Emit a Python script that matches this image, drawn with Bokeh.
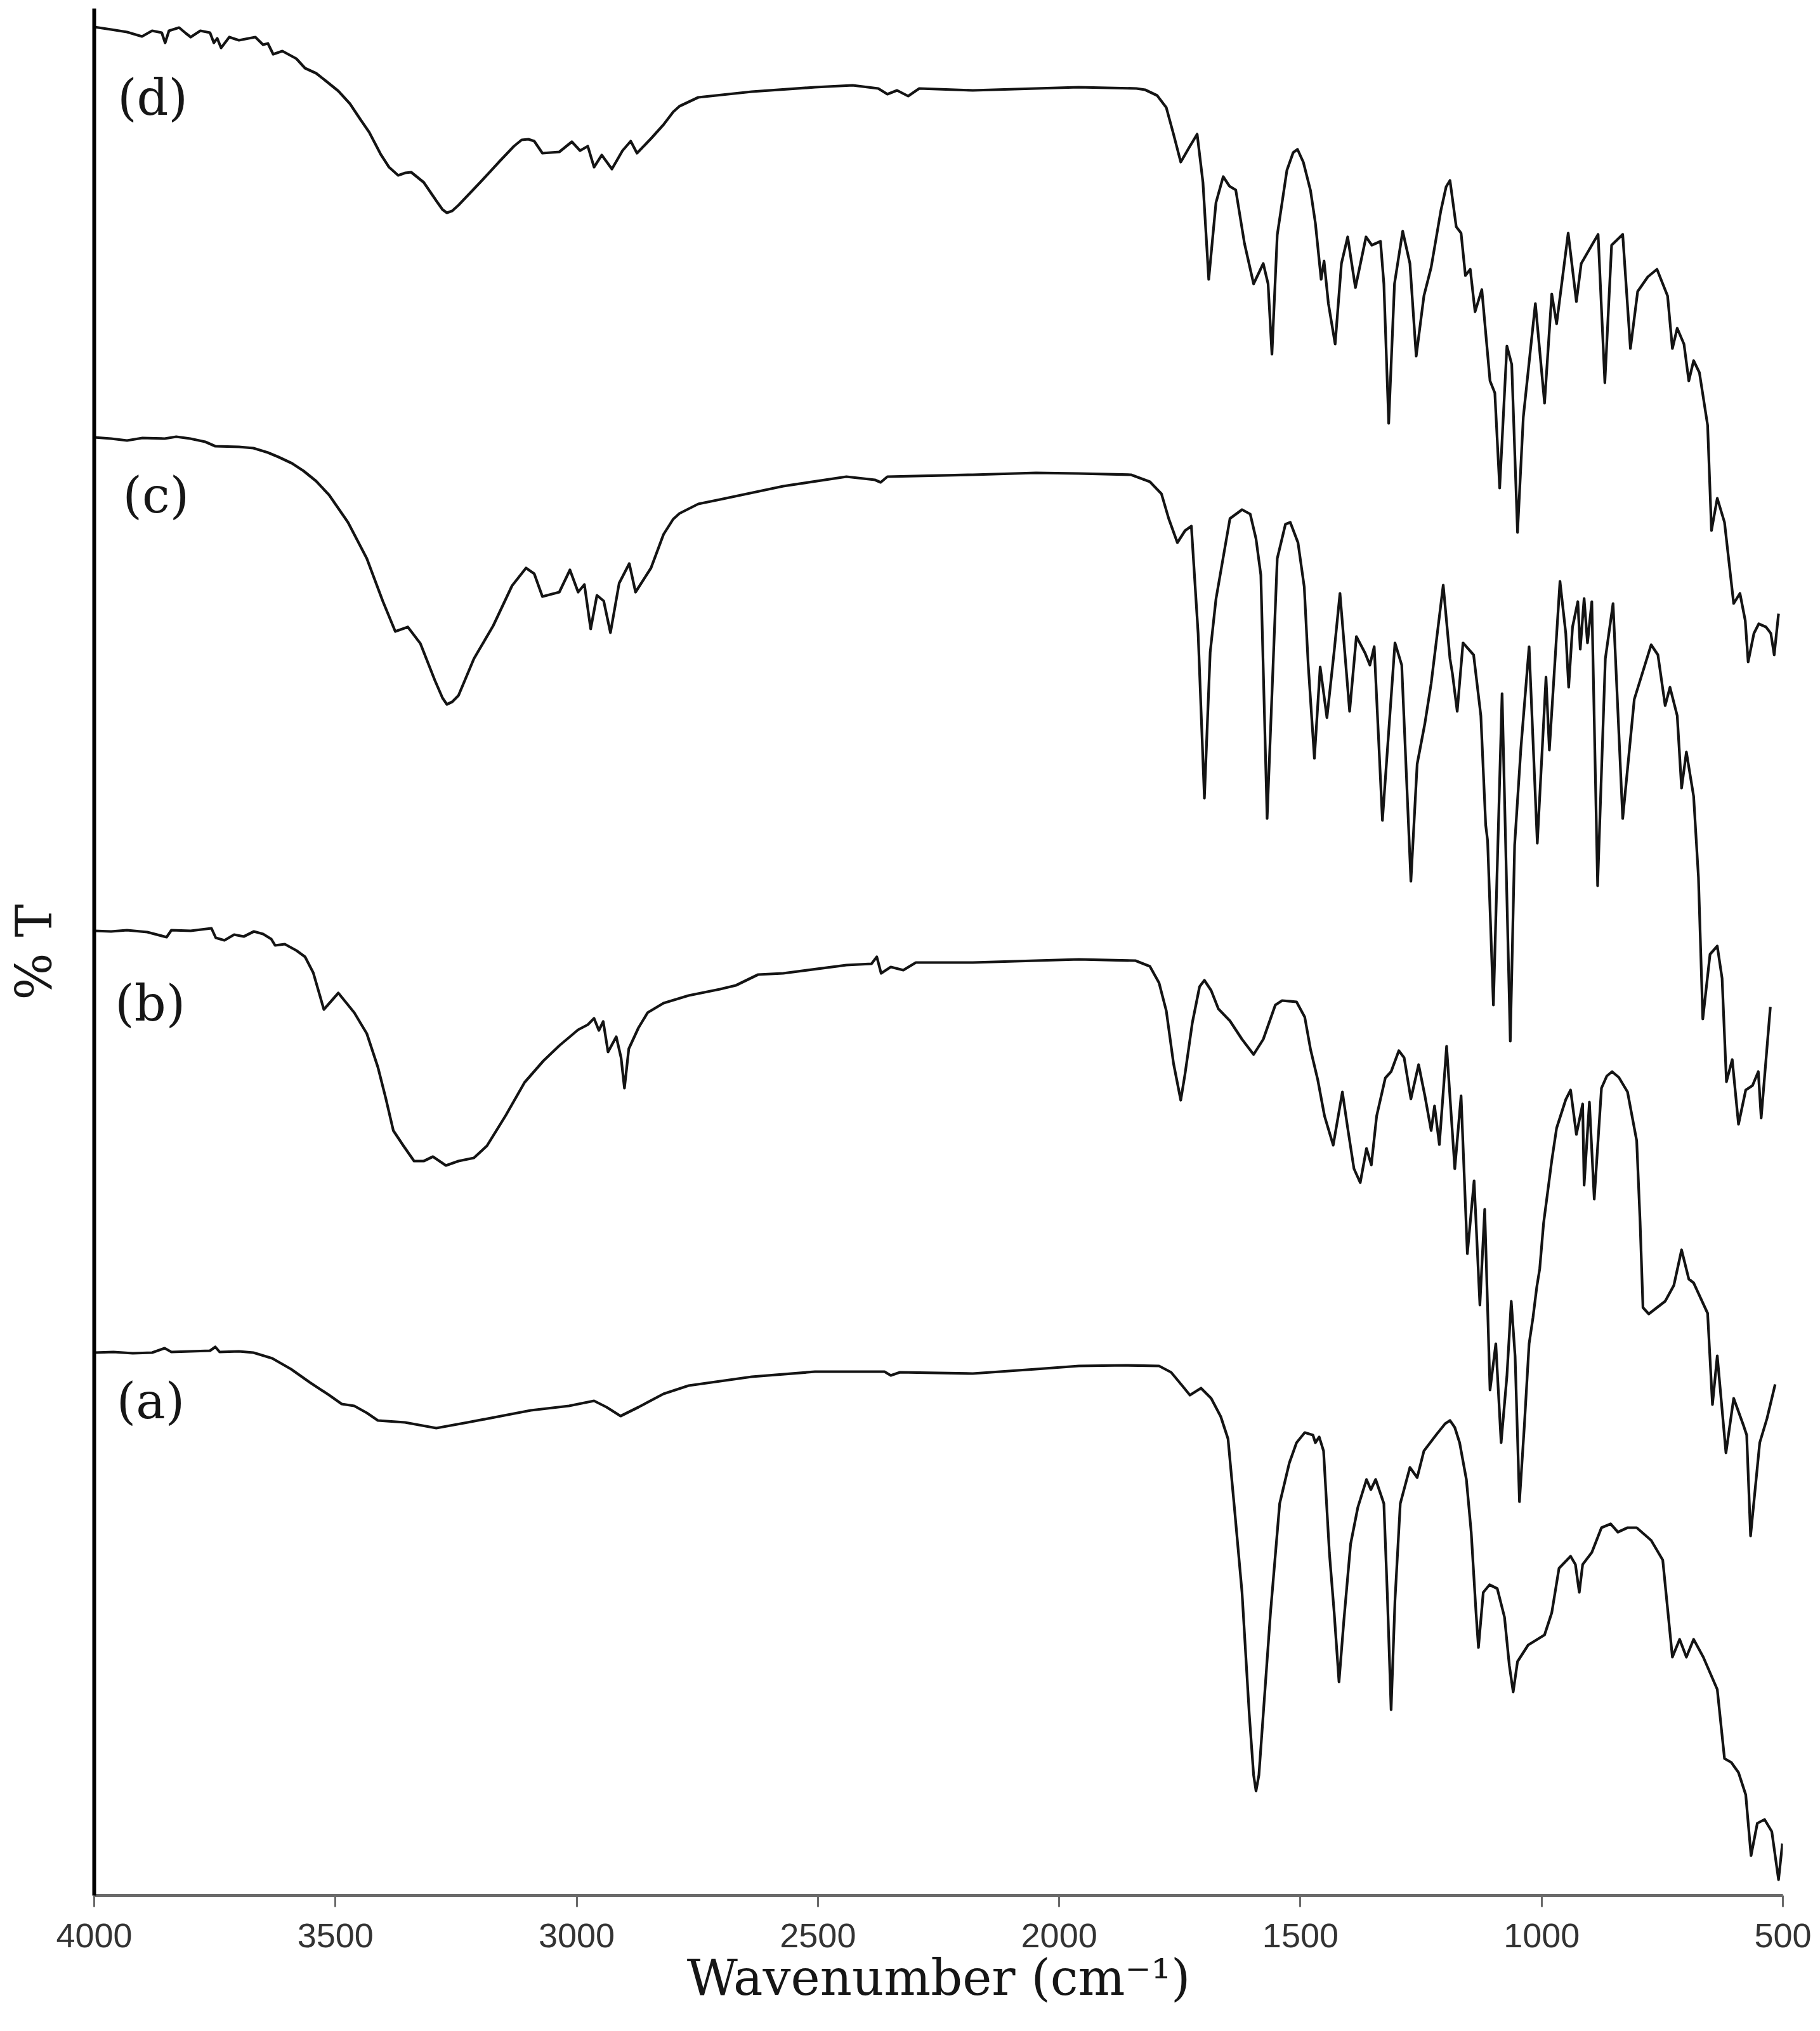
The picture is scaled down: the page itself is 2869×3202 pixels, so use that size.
from bokeh.plotting import figure
from bokeh.models import Range1d, FixedTicker, ColumnDataSource
from bokeh.embed import file_html
from bokeh.resources import INLINE
from bokeh.core.properties import value

# FTIR spectra: (wavenumber cm-1, %T offset in arbitrary units, stacked)
spec_d = [(4000, 2946), (3965, 2942), (3932, 2938), (3901, 2931), (3880, 2940), (3860, 2937), (3853, 2921),
          (3845, 2940), (3824, 2945), (3810, 2936), (3800, 2930), (3780, 2940), (3760, 2937), (3752, 2921),
          (3745, 2928), (3737, 2913), (3720, 2930), (3700, 2925), (3680, 2928), (3666, 2930), (3650, 2918),
          (3640, 2920), (3629, 2903), (3610, 2908), (3581, 2896), (3563, 2881), (3540, 2873), (3520, 2861),
          (3494, 2845), (3470, 2825), (3449, 2801), (3430, 2780), (3406, 2745), (3389, 2725), (3370, 2712),
          (3355, 2716), (3343, 2717), (3317, 2701), (3291, 2672), (3278, 2658), (3269, 2653), (3258, 2656),
          (3245, 2665), (3200, 2701), (3160, 2734), (3130, 2758), (3114, 2768), (3100, 2769), (3088, 2766),
          (3071, 2747), (3036, 2749), (3010, 2765), (2993, 2751), (2977, 2758),
          (2964, 2725), (2948, 2744), (2927, 2722), (2905, 2751), (2888, 2766), (2875, 2747), (2846, 2770),
          (2820, 2792), (2800, 2812), (2787, 2821), (2748, 2835), (2637, 2844), (2506, 2851), (2428, 2854),
          (2375, 2849), (2356, 2840), (2336, 2846), (2313, 2837), (2290, 2849), (2179, 2846), (2048, 2849),
          (1960, 2851), (1900, 2850), (1840, 2849), (1822, 2847), (1797, 2838), (1778, 2819), (1763, 2777),
          (1748, 2733), (1729, 2758), (1714, 2777), (1702, 2701), (1690, 2548), (1675, 2669), (1660, 2710),
          (1647, 2695), (1634, 2689), (1616, 2605), (1597, 2541), (1577, 2573), (1567, 2541), (1559, 2430),
          (1548, 2618), (1528, 2720), (1515, 2748), (1506, 2753), (1494, 2733), (1479, 2688), (1469, 2637),
          (1457, 2548), (1451, 2577),
          (1442, 2510), (1428, 2446), (1415, 2573), (1402, 2615), (1386, 2535), (1364, 2615), (1352, 2602),
          (1334, 2608), (1327, 2541), (1317, 2321), (1305, 2541), (1288, 2624), (1273, 2573), (1260, 2427),
          (1244, 2522), (1229, 2567), (1209, 2656), (1198, 2694), (1190, 2704), (1177, 2631), (1167, 2621),
          (1158, 2554), (1148, 2564), (1138, 2497), (1124, 2532), (1107, 2388), (1097, 2369), (1087, 2219),
          (1072, 2443), (1062, 2414), (1050, 2149), (1038, 2331), (1013, 2510), (994, 2353), (979, 2525),
          (969, 2478), (945, 2621), (928, 2513), (918, 2573), (896, 2602), (883, 2619), (869, 2385),
          (855, 2602), (832, 2619), (816, 2439), (801, 2529), (780, 2552), (761, 2564), (739, 2522),
          (729, 2439), (719, 2471), (705, 2446), (695, 2388), (685, 2420), (673, 2401), (656, 2318),
          (648, 2152), (636, 2203), (621, 2165), (602, 2037), (589, 2053), (578, 2010), (572, 1945),
          (560, 1990), (550, 2005), (535, 2000), (525, 1990), (518, 1956), (509, 2021)]

spec_c = [(4000, 2299), (3965, 2297), (3932, 2294), (3900, 2298), (3854, 2297), (3830, 2300), (3801, 2297),
          (3770, 2292), (3749, 2285), (3700, 2284), (3670, 2282), (3640, 2275), (3618, 2268), (3590, 2258),
          (3566, 2246), (3540, 2230), (3513, 2208), (3474, 2165), (3435, 2108), (3402, 2041), (3376, 1993),
          (3350, 2000), (3324, 1974), (3294, 1916), (3278, 1888), (3269, 1878), (3258, 1882), (3245, 1892),
          (3213, 1950), (3173, 2002), (3134, 2065), (3105, 2093), (3088, 2084), (3071, 2048), (3036, 2055),
          (3014, 2090), (2997, 2055),
          (2984, 2067), (2971, 1997), (2958, 2050), (2944, 2041), (2930, 1991), (2912, 2069), (2891, 2100),
          (2878, 2055), (2846, 2093), (2820, 2146), (2800, 2170), (2787, 2179), (2748, 2194), (2703, 2201),
          (2572, 2222), (2441, 2237), (2382, 2232), (2370, 2228), (2356, 2237), (2179, 2240), (2048, 2243),
          (1960, 2242),
          (1851, 2240), (1812, 2229), (1788, 2210), (1773, 2171), (1755, 2133), (1739, 2152), (1726, 2159),
          (1712, 1990), (1699, 1730), (1687, 1960), (1675, 2044), (1646, 2171), (1621, 2185), (1604, 2178),
          (1592, 2139), (1582, 2082), (1569, 1698), (1548, 2108), (1531, 2162), (1521, 2165), (1505, 2133),
          (1492, 2063), (1484, 1943), (1471, 1793), (1459, 1937), (1445, 1857), (1430, 1962), (1418, 2053),
          (1398, 1867), (1384, 1985), (1366, 1959), (1356, 1940), (1347, 1969), (1330, 1695), (1304, 1975),
          (1290, 1940), (1271, 1599), (1258, 1784), (1242, 1848), (1229, 1911), (1204, 2066), (1190, 1950),
          (1185, 1927), (1175, 1867), (1163, 1975), (1141, 1956), (1126, 1860), (1116, 1688), (1112, 1663),
          (1100, 1404), (1082, 1895), (1065, 1347), (1056, 1656), (1043, 1809), (1026, 1969), (1009, 1659),
          (991, 1921), (984, 1806), (962, 2072), (950, 1990), (944, 1905), (936, 2000), (925, 2040),
          (920, 1965), (912, 2045), (905, 1975), (896, 2040), (884, 1592), (868, 1950), (852, 2037),
          (832, 1698), (808, 1886), (773, 1972), (759, 1956), (744, 1876), (734, 1905), (719, 1860),
          (710, 1746), (700, 1803), (685, 1733), (675, 1605), (666, 1382), (651, 1484), (636, 1497),
          (626, 1446), (617, 1283), (605, 1318), (592, 1216), (577, 1270), (563, 1277), (551, 1299),
          (545, 1226), (526, 1401)]

spec_b = [(4000, 1521), (3965, 1520), (3932, 1522), (3890, 1519), (3850, 1511), (3840, 1522), (3800, 1521),
          (3757, 1525), (3748, 1510), (3730, 1506), (3710, 1515), (3690, 1512), (3669, 1520), (3650, 1516),
          (3633, 1508), (3625, 1498), (3605, 1500), (3581, 1490), (3563, 1480), (3546, 1455), (3524, 1397),
          (3494, 1423), (3461, 1392), (3435, 1359), (3412, 1306), (3396, 1258), (3380, 1206), (3359, 1182),
          (3337, 1158), (3317, 1158), (3298, 1165), (3271, 1151), (3245, 1158), (3213, 1163), (3186, 1182),
          (3147, 1230), (3108, 1282), (3069, 1316), (3036, 1340), (2997, 1365), (2977, 1373), (2964, 1383),
          (2954, 1364), (2945, 1378), (2935, 1330), (2918, 1354), (2908, 1321), (2901, 1273), (2892, 1335),
          (2872, 1368), (2853, 1392), (2820, 1407), (2768, 1419), (2703, 1429), (2670, 1435), (2624, 1452),
          (2572, 1454), (2441, 1467), (2389, 1469), (2378, 1480), (2369, 1454), (2349, 1464), (2323, 1459),
          (2297, 1471), (2179, 1471), (2048, 1474), (1959, 1476), (1842, 1474), (1812, 1465), (1793, 1439),
          (1778, 1395), (1763, 1312), (1748, 1254), (1739, 1296), (1724, 1376), (1709, 1433), (1699, 1443),
          (1685, 1427), (1670, 1398), (1646, 1379), (1621, 1350), (1597, 1326), (1577, 1350), (1552, 1404),
          (1538, 1411), (1508, 1409), (1491, 1385), (1479, 1334), (1464, 1286), (1450, 1229), (1432, 1183),
          (1413, 1267), (1402, 1210), (1389, 1146), (1376, 1124), (1363, 1178), (1353, 1152), (1342, 1229),
          (1324, 1289), (1312, 1299), (1296, 1332), (1285, 1321), (1271, 1256), (1255, 1310), (1242, 1261),
          (1229, 1206), (1222, 1245), (1212, 1184), (1197, 1339), (1180, 1146), (1167, 1261), (1154, 1012),
          (1140, 1127), (1128, 931), (1118, 1082), (1107, 797), (1095, 870), (1084, 714), (1072, 819),
          (1063, 937), (1055, 850), (1046, 621), (1036, 739), (1026, 870), (1018, 911), (1010, 960),
          (1004, 988), (996, 1060), (979, 1159), (969, 1210), (950, 1255), (940, 1270), (928, 1200),
          (915, 1248), (912, 1120), (901, 1251), (891, 1098), (876, 1273), (865, 1292), (854, 1299),
          (840, 1290), (822, 1267), (803, 1190), (796, 1063), (790, 927), (778, 917), (744, 937), (726, 962),
          (710, 1018), (695, 972), (685, 966), (656, 918), (646, 774), (636, 851), (618, 698), (602, 784),
          (582, 742), (575, 726), (567, 567), (548, 714), (533, 752), (516, 806)]

spec_a = [(4000, 856), (3960, 857), (3920, 855), (3880, 856), (3854, 863), (3840, 857), (3800, 858),
          (3760, 859), (3749, 865), (3740, 857), (3700, 858), (3670, 856), (3631, 847), (3592, 830),
          (3553, 809), (3513, 789), (3487, 775), (3461, 772), (3435, 761), (3412, 749), (3356, 746),
          (3291, 737), (3226, 746), (3150, 757), (3095, 765), (3016, 772), (2964, 780), (2938, 770),
          (2909, 756), (2872, 770), (2820, 791), (2768, 804), (2637, 818), (2506, 826), (2362, 826),
          (2349, 820), (2330, 825), (2179, 823), (2048, 830), (1959, 835), (1861, 836), (1793, 835),
          (1768, 825), (1744, 803), (1729, 789), (1706, 800), (1685, 784), (1665, 755), (1650, 720),
          (1636, 605), (1621, 478), (1606, 286), (1597, 190), (1592, 165), (1586, 190), (1577, 286),
          (1562, 446), (1543, 618), (1523, 682), (1508, 714), (1491, 730), (1474, 726), (1469, 714),
          (1461, 723), (1452, 701),
          (1440, 541), (1430, 446), (1420, 337), (1410, 433), (1396, 554), (1381, 612), (1363, 656),
          (1354, 640), (1344, 656), (1327, 618), (1320, 478), (1312, 293), (1304, 465), (1293, 618),
          (1273, 675), (1258, 659), (1244, 701), (1219, 726), (1200, 744), (1190, 749), (1180, 738),
          (1170, 714), (1156, 656), (1146, 573), (1136, 446), (1131, 391), (1121, 478), (1108, 490),
          (1092, 484), (1077, 439), (1067, 363), (1059, 321), (1050, 369), (1028, 395), (994, 411),
          (979, 446), (964, 516), (940, 535), (930, 522), (922, 478), (915, 522), (896, 541), (876, 580),
          (857, 586), (842, 573), (822, 580), (803, 580), (773, 560), (749, 529), (729, 376), (714, 404),
          (700, 376), (685, 404), (665, 376), (636, 325), (621, 216), (607, 210), (592, 194), (577, 159),
          (566, 63), (553, 114), (538, 120), (523, 101), (509, 25), (501, 82)]

series_names = ["(a)", "(b)", "(c)", "(d)"]
x_ticks = [4000, 3500, 3000, 2500, 2000, 1500, 1000, 500]

# label anchor positions (annotation placement)
label_x = [3883, 3884, 3872, 3879]
label_y = [780, 1407, 2208, 2835]

p = figure(width=2861, height=3202, output_backend="svg", toolbar_location=None,
           x_range=Range1d(4000, 500), y_range=Range1d(0, 2975),
           min_border_left=148, min_border_right=51, min_border_top=13, min_border_bottom=214)
p.outline_line_color = None
p.grid.visible = False
p.background_fill_color = "white"
p.border_fill_color = "white"

for spec in (spec_a, spec_b, spec_c, spec_d):
    xs = [s[0] for s in spec]
    ys = [s[1] for s in spec]
    p.line(xs, ys, line_color="#141414", line_width=4.2, line_join="round")

src = ColumnDataSource(dict(x=label_x, y=label_y, t=series_names))
p.text(x="x", y="y", text="t", source=src, text_align="center", text_baseline="middle",
       text_font=value("DejaVu Serif"), text_font_size="78px", text_color="#161616")

xa = p.xaxis[0]
xa.ticker = FixedTicker(ticks=x_ticks)
xa.axis_line_color = "#6a6a6a"
xa.axis_line_width = 5
xa.major_tick_line_color = "#6a6a6a"
xa.major_tick_line_width = 3
xa.major_tick_out = 18
xa.major_tick_in = 0
xa.minor_tick_out = 0
xa.minor_tick_in = 0
xa.major_label_text_font = "Liberation Sans"
xa.major_label_text_font_size = "54px"
xa.major_label_text_color = "#333333"
xa.major_label_standoff = 26
xa.axis_label = "Wavenumber (cm\u207b\u00b9)"
xa.axis_label_text_font = "DejaVu Serif"
xa.axis_label_text_font_size = "78px"
xa.axis_label_text_font_style = "normal"
xa.axis_label_text_color = "#161616"
xa.axis_label_standoff = 0

ya = p.yaxis[0]
ya.ticker = FixedTicker(ticks=[])
ya.axis_line_color = "#000000"
ya.axis_line_width = 6
ya.major_tick_out = 0
ya.major_tick_in = 0
ya.minor_tick_out = 0
ya.minor_tick_in = 0
ya.major_label_standoff = 0
ya.major_label_text_font_size = "0px"
ya.axis_label = "% T"
ya.axis_label_text_font = "DejaVu Serif"
ya.axis_label_text_font_size = "78px"
ya.axis_label_text_font_style = "normal"
ya.axis_label_text_color = "#161616"
ya.axis_label_standoff = 50

open("out.html", "w").write(file_html(p, INLINE))
